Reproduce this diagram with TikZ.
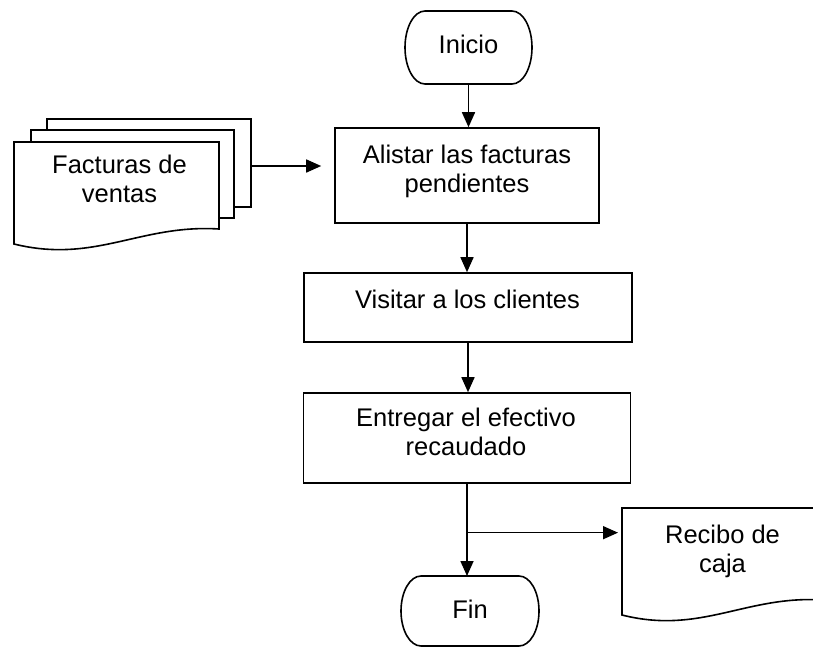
\documentclass[tikz,border=0pt]{standalone}
\usepackage{fontspec}
\setmainfont{Liberation Sans}
\usetikzlibrary{arrows.meta,calc}
\newcommand\topst{\rule{0pt}{19pt}}
\newcommand\botst{\rule[-6pt]{0pt}{6pt}}
\begin{document}
\begin{tikzpicture}[x=1pt,y=-1pt,
  line/.style={line width=1.6pt, line join=miter},
  shapebox/.style={draw, line width=1.6pt, inner sep=0pt},
  txt/.style={font=\fontsize{25.5}{29.5}\selectfont, align=center, inner sep=0pt},
  arr/.style={line width=1.6pt, -{Triangle[length=15pt,width=13pt]}},
  ghost/.style={inner sep=0pt, outer sep=0pt}]
\useasboundingbox[fill=white] (0,0) rectangle (813,648);

% terminals
\node[ghost, minimum width=127pt, minimum height=73pt] (ini) at (468.5,47.5) {};
\draw[line] ([xshift=20pt]ini.north west) -- ([xshift=-20pt]ini.north east)
  arc[start angle=90,end angle=-90,x radius=20pt,y radius=36.5pt]
  -- ([xshift=20pt]ini.south west)
  arc[start angle=270,end angle=90,x radius=20pt,y radius=36.5pt] -- cycle;
\node[txt] (tini) at (468.5,46.5) {\topst Inicio\botst};

\node[ghost, minimum width=138pt, minimum height=70pt] (fin) at (470,611) {};
\draw[line] ([xshift=20pt]fin.north west) -- ([xshift=-20pt]fin.north east)
  arc[start angle=90,end angle=-90,x radius=20pt,y radius=35pt]
  -- ([xshift=20pt]fin.south west)
  arc[start angle=270,end angle=90,x radius=20pt,y radius=35pt] -- cycle;
\node[txt] (tfin) at (470,611.5) {\topst Fin\botst};

% process boxes
\node[shapebox, minimum width=264pt, minimum height=95pt] (b1) at (467,175.5) {};
\node[txt] (t1) at (467,171.25) {\topst Alistar las facturas\\pendientes\botst};

\node[shapebox, minimum width=328pt, minimum height=69pt] (b2) at (468,307.5) {};
\node[txt] (t2) at (467.5,301.5) {\topst Visitar a los clientes\botst};

\node[shapebox, minimum width=327pt, minimum height=90pt] (b3) at (467,438) {};
\node[txt] (t3) at (466,434.25) {\topst Entregar el efectivo\\recaudado\botst};

% multi-document
\draw[line, fill=white] (47,119) rectangle (251,207);
\node[ghost, minimum width=204pt, minimum height=88pt] (back) at (149,163) {};
\draw[line, fill=white] (31,130) rectangle (234,218);
\draw[line, fill=white] (14,142) -- (219,142) -- (219,229)
  .. controls (140,224) and (95,264) .. (14,244) -- cycle;
\node[txt] (tfac) at (119.5,181.25) {\topst Facturas de\\ventas\botst};

% document Recibo de caja
\draw[line, fill=white] (823,508) -- (622,508) -- (622,615)
  .. controls (701,635) and (746,595) .. (823,600) -- cycle;
\node[ghost, minimum width=201pt, minimum height=107pt] (rec) at (722.5,561.5) {};
\node[txt] (trec) at (722.5,551.25) {\topst Recibo de\\caja\botst};

% connectors
\draw[arr] (ini.south) -- (ini.south |- b1.north);
\draw[arr] (b1.south) -- (b1.south |- b2.north);
\draw[arr] (b2.south) -- (b2.south |- b3.north);
\draw[arr] (b3.south) -- (b3.south |- fin.north);
\draw[arr] ($(back.east)+(0,3)$) -- ($(back.east -| b1.west)+(-13,3)$);
\coordinate (br) at ($(b3.south)!0.53!(b3.south |- fin.north)$);
\draw[arr, shorten >=4pt] (br) -- (br -| rec.west);
\end{tikzpicture}
\end{document}
